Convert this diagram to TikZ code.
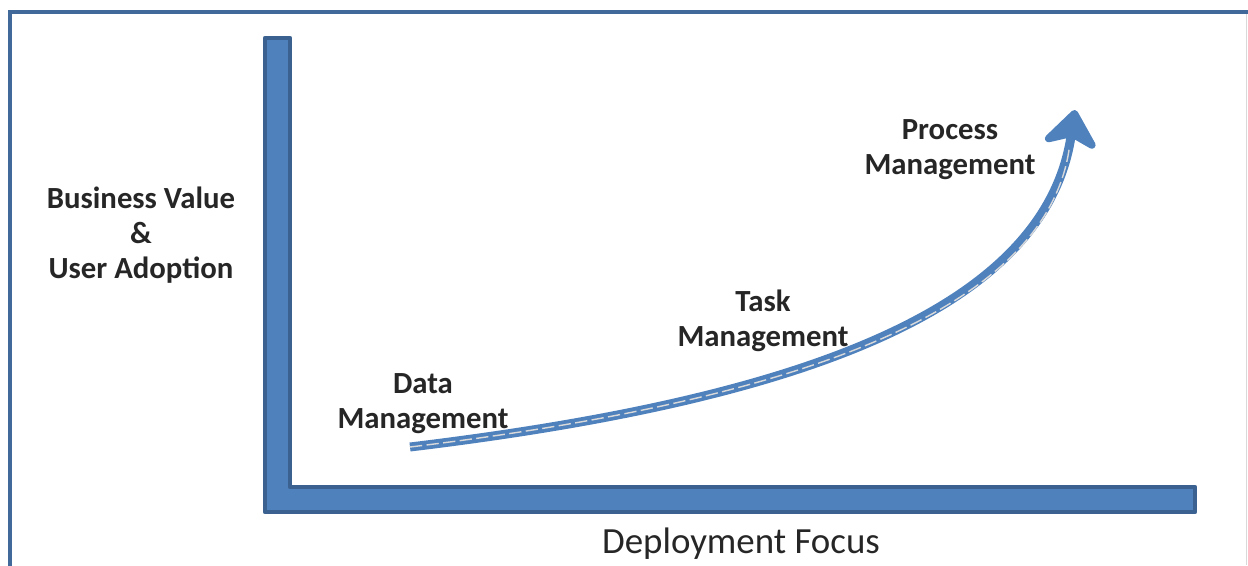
\documentclass[tikz,border=0pt]{standalone}
\usepackage{fontspec}
\setmainfont{Carlito}
\usepackage{xcolor}
\usetikzlibrary{arrows.meta, positioning, calc}
\definecolor{axisblue}{HTML}{4F81BD}
\definecolor{axisedge}{HTML}{3B6190}
\definecolor{framecol}{HTML}{41699A}

\begin{document}
\begin{tikzpicture}[
  x=0.02cm, y=-0.02cm,
  lbl/.style={align=center, font=\fontsize{17.5}{20}\selectfont\bfseries, text=black!85},
  axisbar/.style={fill=axisblue, draw=axisedge, line width=2.5pt, line join=round},
  growth/.style={draw=axisblue, line width=0.18cm,
                 -{Stealth[length=0.85cm, width=1.3cm, inset=0.25cm, round]}},
]
  \useasboundingbox (0,0) rectangle (1248,565);

  % outer frame (only top and left visible)
  \draw[framecol, line width=2.6pt] (10,590) -- (10,12) -- (1260,12);
  \draw[black!15, line width=0.4pt] (1246,14) -- (1246,565);

  % axes
  \draw[axisbar] (265,38) -- (290,38) -- (290,487) -- (1195,487)
                 -- (1195,512) -- (265,512) -- cycle;

  % growth curve
  \coordinate (start) at (410,447);
  \coordinate (tip) at (1075,110);
  \draw[growth] (start) .. controls (800,400) and (1045,310) .. (tip);
  \draw[white!70!gray, line width=0.8pt, dash pattern=on 7pt off 2.5pt, shorten >=0.8cm]
       (start) .. controls (800,400) and (1045,310) .. (tip);

  % labels
  \node[lbl] (valuelabel) at (141,235) {Business Value\\\&\\User Adoption};
  \node[lbl] (datamgmt) at (423,404) {Data\\Management};
  \node[lbl] (taskmgmt) at (763,321) {Task\\Management};
  \node[lbl] (procmgmt) at (950,150) {Process\\Management};
  \node[lbl, font=\fontsize{21}{24}\selectfont] (focuslabel) at (741,544) {Deployment Focus};
\end{tikzpicture}
\end{document}
